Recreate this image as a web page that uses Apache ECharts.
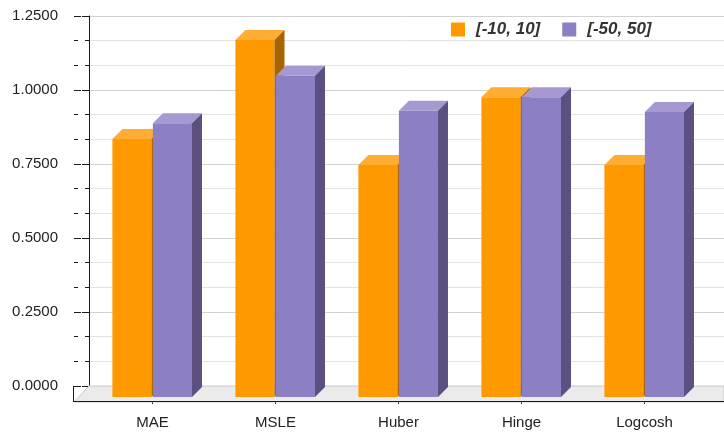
<!DOCTYPE html>
<html>
<head>
<meta charset="utf-8">
<script src="https://cdn.jsdelivr.net/npm/echarts@6/dist/echarts.min.js"></script>
<style>
html,body{margin:0;padding:0;background:#fff;}
#main{width:724px;height:435px;}
</style>
</head>
<body>
<div id="main"></div>
<script>
var categories = ['MAE', 'MSLE', 'Huber', 'Hinge', 'Logcosh'];
var seriesNames = ['[-10, 10]', '[-50, 50]'];
var range10 = [0.872, 1.206, 0.784, 1.013, 0.784];
var range50 = [0.925, 1.085, 0.967, 1.013, 0.963];
var yMin = 0, yMax = 1.25, yStep = 0.25;

//颜色: 正面, 顶面, 侧面
var colors = [
	{front: '#ff9900', top: '#ffad33', side: '#a86400'},
	{front: '#8d7fc3', top: '#a698d0', side: '#5c5082'}
];
var depth = 10;

function toData(arr) {
	var out = [];
	for (var i = 0; i < arr.length; i++) {
		out.push([i, arr[i]]);
	}
	return out;
}

//画一个三维柱子 (正面+顶面+侧面)
function barRender(idx) {
	return function (params, api) {
		var top = api.coord([api.value(0), api.value(1)]);
		var bottom = api.coord([api.value(0), 0]);
		var band = api.size([1, 0])[0];
		var w = band * 0.318;
		var x0 = idx == 0 ? top[0] - band * 0.326 : top[0] + band * 0.003;
		var x1 = x0 + w;
		var yt = top[1], yb = bottom[1];
		var c = colors[idx];
		return {
			type: 'group',
			children: [
				{type: 'rect', shape: {x: x0, y: yt, width: w, height: yb - yt}, style: {fill: c.front}},
				{type: 'polygon', shape: {points: [[x0, yt], [x0 + depth, yt - depth], [x1 + depth, yt - depth], [x1, yt]]}, style: {fill: c.top}},
				{type: 'polygon', shape: {points: [[x1, yt], [x1 + depth, yt - depth], [x1 + depth, yb - depth], [x1, yb]]}, style: {fill: c.side}}
			]
		};
	};
}

//底面
function floorRender(params, api) {
	var cs = params.coordSys;
	var bx = cs.x, by = cs.y + cs.height;
	var fx = bx - 15, fy = by + 16;
	var right = cs.x + cs.width;
	return {
		type: 'group',
		children: [
			{type: 'polygon', shape: {points: [[fx, fy], [bx, by], [right, by], [right, fy]]}, style: {fill: '#ebebeb', stroke: '#c8c8c8', lineWidth: 1}},
			{type: 'line', shape: {x1: fx, y1: fy - 0.5, x2: right, y2: fy - 0.5}, style: {stroke: '#1a1a1a', lineWidth: 1}},
			{type: 'line', shape: {x1: fx - 0.5, y1: by, x2: fx - 0.5, y2: fy}, style: {stroke: '#1a1a1a', lineWidth: 1}}
		]
	};
}

var myChart = echarts.init(document.getElementById('main'));
var labelFont = {fontFamily: 'Liberation Sans', fontSize: 15, color: '#222'};

var option = {
	animation: false,
	backgroundColor: '#fff',
	legend: {
		data: seriesNames,
		left: 446,
		top: 16,
		icon: 'rect',
		itemWidth: 14,
		itemHeight: 14,
		itemGap: 22,
		textStyle: {fontFamily: 'Liberation Sans', fontSize: 17, fontWeight: 'bold', fontStyle: 'italic', color: '#333', padding: [0, 0, 0, 6]}
	},
	grid: [
		//后墙
		{left: 89, right: 0, top: 16, bottom: 49},
		//正面
		{left: 91, right: 18, top: 27, bottom: 38}
	],
	xAxis: [
		{gridIndex: 0, type: 'value', min: 0, max: 1, show: false},
		{
			gridIndex: 1,
			type: 'category',
			data: categories,
			offset: 5,
			axisLine: {show: false},
			axisTick: {show: true, alignWithLabel: true, length: 7, lineStyle: {color: '#1a1a1a'}},
			axisLabel: Object.assign({margin: 13}, labelFont),
			splitLine: {show: false}
		}
	],
	yAxis: [
		{
			gridIndex: 0,
			type: 'value',
			min: yMin, max: yMax, interval: yStep,
			offset: 15,
			axisLine: {show: true, lineStyle: {color: '#1a1a1a'}},
			axisTick: {show: true, length: 7, lineStyle: {color: '#1a1a1a'}},
			minorTick: {show: true, splitNumber: 3, length: 4, lineStyle: {color: '#1a1a1a'}},
			axisLabel: Object.assign({margin: 16, formatter: function (v) { return v.toFixed(4); }}, labelFont),
			splitLine: {show: true, lineStyle: {color: '#d2d2d2'}},
			minorSplitLine: {show: true, lineStyle: {color: '#e4e4e4'}}
		},
		{
			gridIndex: 0,
			type: 'value',
			position: 'left',
			min: yMin, max: yMax, interval: yStep,
			offset: 15,
			axisLine: {show: false},
			axisTick: {show: true, inside: true, length: 7, lineStyle: {color: '#1a1a1a'}},
			minorTick: {show: true, splitNumber: 3, length: 4, lineStyle: {color: '#1a1a1a'}},
			axisLabel: {show: false},
			splitLine: {show: false}
		},
		{gridIndex: 1, type: 'value', min: yMin, max: yMax, show: false}
	],
	series: [
		{
			type: 'custom',
			name: 'floor',
			xAxisIndex: 0,
			yAxisIndex: 0,
			renderItem: floorRender,
			data: [[0, 0]],
			silent: true,
			z: 1
		},
		{
			type: 'custom',
			name: seriesNames[0],
			xAxisIndex: 1,
			yAxisIndex: 2,
			itemStyle: {color: colors[0].front},
			renderItem: barRender(0),
			data: toData(range10),
			z: 2
		},
		{
			type: 'custom',
			name: seriesNames[1],
			xAxisIndex: 1,
			yAxisIndex: 2,
			itemStyle: {color: colors[1].front},
			renderItem: barRender(1),
			data: toData(range50),
			z: 3
		}
	]
};
myChart.setOption(option);
</script>
</body>
</html>
